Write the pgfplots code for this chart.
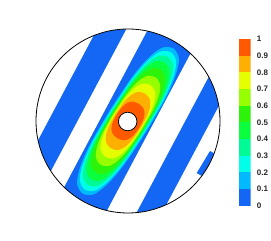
\documentclass[border=0pt]{standalone}
\usepackage{pgfplots}
\pgfplotsset{compat=1.18}
\usepackage{fontspec}
\setmainfont{Liberation Sans}
\definecolor{c0}{RGB}{20,102,245}
\definecolor{c1}{RGB}{0,185,255}
\definecolor{c2}{RGB}{0,255,232}
\definecolor{c3}{RGB}{0,250,150}
\definecolor{c4}{RGB}{10,255,60}
\definecolor{c5}{RGB}{45,242,10}
\definecolor{c6}{RGB}{150,255,0}
\definecolor{c7}{RGB}{230,255,0}
\definecolor{c8}{RGB}{255,175,0}
\definecolor{c9}{RGB}{255,90,0}
\begin{document}
\begin{tikzpicture}
\useasboundingbox (0,0) rectangle (271pt,241pt);
% stripes (frame tilted 62 deg)
\begin{axis}[at={(128pt,120pt)}, anchor=origin,
  x={(43.19pt,81.23pt)}, y={(-81.23pt,43.19pt)},
  xmin=-1.2,xmax=1.2,ymin=-1.2,ymax=1.2, hide axis, clip=false]
\addplot[fill=c0, draw=none] coordinates {(-1.2,-0.255) (1.2,-0.255) (1.2,0.275) (-1.2,0.275)} -- cycle;
\addplot[fill=c0, draw=none] coordinates {(-1.2,0.485) (1.2,0.485) (1.2,0.765) (-1.2,0.765)} -- cycle;
\addplot[fill=c0, draw=none] coordinates {(-1.2,-0.795) (1.2,-0.795) (1.2,-0.55) (-1.2,-0.55)} -- cycle;
\addplot[fill=c0, draw=none] coordinates {(-0.15,-0.925) (0.13,-0.94) (0.13,-1.1) (-0.15,-1.1)} -- cycle;
\end{axis}
% contours (frame tilted 58 deg)
\begin{axis}[at={(128pt,120pt)}, anchor=origin,
  x={(48.75pt,78.02pt)}, y={(-78.02pt,48.75pt)},
  xmin=-1.2,xmax=1.2,ymin=-1.2,ymax=1.2, hide axis, clip=false]
\addplot[fill=c1, draw=none, smooth] coordinates {(0,0.23) (-0.432,0.216) (-0.705,0.174) (-0.873,0.107) (-0.93,0) (-0.873,-0.107) (-0.705,-0.174) (-0.432,-0.216) (0,-0.23) (0.432,-0.216) (0.705,-0.174) (0.873,-0.107) (0.93,0) (0.873,0.107) (0.705,0.174) (0.432,0.216) (0,0.23)} -- cycle;
\addplot[fill=c2, draw=none, smooth] coordinates {(0,0.218) (-0.408,0.205) (-0.667,0.165) (-0.826,0.101) (-0.88,0) (-0.826,-0.101) (-0.667,-0.165) (-0.408,-0.205) (0,-0.218) (0.408,-0.205) (0.667,-0.165) (0.826,-0.101) (0.88,0) (0.826,0.101) (0.667,0.165) (0.408,0.205) (0,0.218)} -- cycle;
\addplot[fill=c3, draw=none, smooth] coordinates {(0,0.207) (-0.38,0.194) (-0.622,0.157) (-0.77,0.096) (-0.82,0) (-0.77,-0.096) (-0.622,-0.157) (-0.38,-0.194) (0,-0.207) (0.38,-0.194) (0.622,-0.157) (0.77,-0.096) (0.82,0) (0.77,0.096) (0.622,0.157) (0.38,0.194) (0,0.207)} -- cycle;
\addplot[fill=c4, draw=none, smooth] coordinates {(0,0.197) (-0.348,0.185) (-0.569,0.149) (-0.704,0.091) (-0.75,0) (-0.704,-0.091) (-0.569,-0.149) (-0.348,-0.185) (0,-0.197) (0.348,-0.185) (0.569,-0.149) (0.704,-0.091) (0.75,0) (0.704,0.091) (0.569,0.149) (0.348,0.185) (0,0.197)} -- cycle;
\addplot[fill=c5, draw=none, smooth] coordinates {(0,0.187) (-0.306,0.176) (-0.5,0.142) (-0.62,0.087) (-0.66,0) (-0.62,-0.087) (-0.5,-0.142) (-0.306,-0.176) (0,-0.187) (0.306,-0.176) (0.5,-0.142) (0.62,-0.087) (0.66,0) (0.62,0.087) (0.5,0.142) (0.306,0.176) (0,0.187)} -- cycle;
\addplot[fill=c6, draw=none, smooth] coordinates {(0,0.177) (-0.26,0.166) (-0.425,0.134) (-0.526,0.082) (-0.56,0) (-0.526,-0.082) (-0.425,-0.134) (-0.26,-0.166) (0,-0.177) (0.26,-0.166) (0.425,-0.134) (0.526,-0.082) (0.56,0) (0.526,0.082) (0.425,0.134) (0.26,0.166) (0,0.177)} -- cycle;
\addplot[fill=c7, draw=none, smooth] coordinates {(0,0.167) (-0.213,0.157) (-0.349,0.127) (-0.432,0.077) (-0.46,0) (-0.432,-0.077) (-0.349,-0.127) (-0.213,-0.157) (0,-0.167) (0.213,-0.157) (0.349,-0.127) (0.432,-0.077) (0.46,0) (0.432,0.077) (0.349,0.127) (0.213,0.157) (0,0.167)} -- cycle;
\addplot[fill=c8, draw=none, smooth] coordinates {(0,0.156) (-0.162,0.146) (-0.265,0.118) (-0.329,0.072) (-0.35,0) (-0.329,-0.072) (-0.265,-0.118) (-0.162,-0.146) (0,-0.156) (0.162,-0.146) (0.265,-0.118) (0.329,-0.072) (0.35,0) (0.329,0.072) (0.265,0.118) (0.162,0.146) (0,0.156)} -- cycle;
\addplot[fill=c9, draw=none, smooth] coordinates {(0,0.142) (-0.102,0.133) (-0.167,0.108) (-0.207,0.066) (-0.22,0) (-0.207,-0.066) (-0.167,-0.108) (-0.102,-0.133) (0,-0.142) (0.102,-0.133) (0.167,-0.108) (0.207,-0.066) (0.22,0) (0.207,0.066) (0.167,0.108) (0.102,0.133) (0,0.142)} -- cycle;
\end{axis}
% mask outside the disc, outline, hole
\fill[white, even odd rule] (128pt,120pt) circle (92pt) (-5pt,-5pt) rectangle (276pt,246pt);
\draw[line width=0.8pt] (128pt,120pt) circle (92pt);
\fill[white] (127.7pt,119.5pt) circle (9.3pt);
\draw[line width=0.8pt] (127.7pt,119.5pt) circle (9.3pt);
% colour bar
\begin{axis}[at={(238.7pt,35.3pt)}, anchor=south west, scale only axis,
  width=12pt, height=166.7pt, xmin=0, xmax=1, ymin=0, ymax=1,
  xtick=\empty, ytick={0,0.1,0.2,0.3,0.4,0.5,0.6,0.7,0.8,0.9,1},
  yticklabel pos=right, axis line style={draw=none}, major tick length=0pt,
  /pgf/number format/assume math mode=true,
  yticklabel style={font=\fontsize{8}{9}\bfseries\selectfont, text=black!85, anchor=west, inner sep=0pt, xshift=6pt}]
\addplot[fill=c0, draw=none] coordinates {(0,0) (1,0) (1,0.1) (0,0.1)} -- cycle;
\addplot[fill=c1, draw=none] coordinates {(0,0.1) (1,0.1) (1,0.2) (0,0.2)} -- cycle;
\addplot[fill=c2, draw=none] coordinates {(0,0.2) (1,0.2) (1,0.3) (0,0.3)} -- cycle;
\addplot[fill=c3, draw=none] coordinates {(0,0.3) (1,0.3) (1,0.4) (0,0.4)} -- cycle;
\addplot[fill=c4, draw=none] coordinates {(0,0.4) (1,0.4) (1,0.5) (0,0.5)} -- cycle;
\addplot[fill=c5, draw=none] coordinates {(0,0.5) (1,0.5) (1,0.6) (0,0.6)} -- cycle;
\addplot[fill=c6, draw=none] coordinates {(0,0.6) (1,0.6) (1,0.7) (0,0.7)} -- cycle;
\addplot[fill=c7, draw=none] coordinates {(0,0.7) (1,0.7) (1,0.8) (0,0.8)} -- cycle;
\addplot[fill=c8, draw=none] coordinates {(0,0.8) (1,0.8) (1,0.9) (0,0.9)} -- cycle;
\addplot[fill=c9, draw=none] coordinates {(0,0.9) (1,0.9) (1,1) (0,1)} -- cycle;
\end{axis}
\end{tikzpicture}
\end{document}
